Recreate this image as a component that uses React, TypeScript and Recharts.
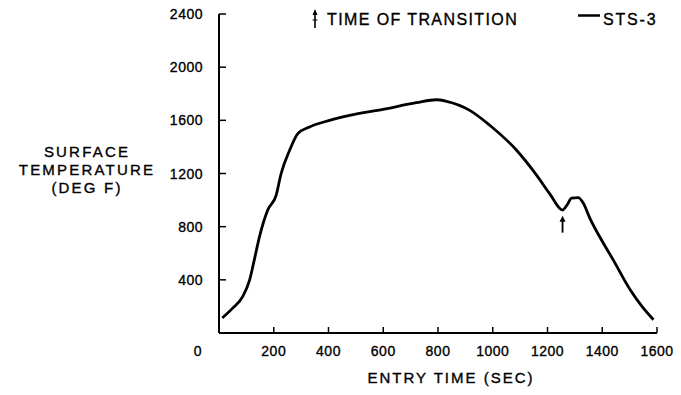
import React from 'react';
import { LineChart, Line, XAxis, YAxis, ReferenceDot } from 'recharts';

// Entry time (sec) and STS-3 surface temperature (deg F)
const entryTime = [12, 50, 87, 112, 130, 148, 178, 209, 227, 258, 288, 331, 404, 477, 599, 721, 794, 831, 916, 989, 1087, 1160, 1209, 1255, 1272, 1288, 1312, 1330, 1355, 1400, 1440, 1502, 1545, 1587];
const surfaceTemp = [113, 187, 275, 400, 560, 725, 925, 1038, 1200, 1375, 1500, 1550, 1600, 1638, 1683, 1733, 1755, 1743, 1675, 1563, 1375, 1188, 1045, 925, 965, 1015, 1018, 980, 863, 690, 550, 325, 200, 100];

const xTicks = [0, 200, 400, 600, 800, 1000, 1200, 1400, 1600];
const yTicks = [400, 800, 1200, 1600, 2000, 2400];

const transitionTime = 1255;
const transitionMarkTemp = 815;

const seriesName = 'STS-3';
const transitionLabel = 'TIME OF TRANSITION';
const xTitle = 'ENTRY TIME (SEC)';
const yTitleLines = ['SURFACE', 'TEMPERATURE', '(DEG F)'];

const data = entryTime.map((t, i) => ({ t, temp: surfaceTemp[i] }));

const FONT = '"Liberation Sans", Arial, Helvetica, sans-serif';
const TEXT_STROKE = { stroke: '#000', strokeWidth: 0.35 };

const XTick = (props: any) => {
  const { x, y, payload } = props;
  const isZero = payload.value === 0;
  return (
    <g>
      {!isZero && <line x1={x} x2={x} y1={y} y2={y - 6} stroke="#000" strokeWidth={1.5} />}
      <text
        x={isZero ? x - 21 : x}
        y={y + 23}
        textAnchor="middle"
        fontFamily={FONT}
        fontSize={14}
        letterSpacing={0.5}
        fill="#000"
        {...TEXT_STROKE}
      >
        {payload.value}
      </text>
    </g>
  );
};

const YTick = (props: any) => {
  const { x, y, payload } = props;
  return (
    <g>
      <line x1={x} x2={x + 7} y1={y} y2={y} stroke="#000" strokeWidth={1.5} />
      <text
        x={x - 16}
        y={y + 5}
        textAnchor="end"
        fontFamily={FONT}
        fontSize={14}
        letterSpacing={0.5}
        fill="#000"
        {...TEXT_STROKE}
      >
        {payload.value}
      </text>
    </g>
  );
};

const XTitle = (props: any) => {
  const vb = props.viewBox || {};
  return (
    <text
      x={vb.x + vb.width / 2 + 13}
      y={vb.y + 50}
      textAnchor="middle"
      fontFamily={FONT}
      fontSize={15}
      letterSpacing={2}
      fill="#000"
      {...TEXT_STROKE}
    >
      {xTitle}
    </text>
  );
};

const YTitle = () => (
  <g>
    {yTitleLines.map((line, i) => (
      <text
        key={line}
        x={87}
        y={157 + i * 18}
        textAnchor="middle"
        fontFamily={FONT}
        fontSize={15}
        letterSpacing={2.2}
        fill="#000"
        {...TEXT_STROKE}
      >
        {line}
      </text>
    ))}
  </g>
);

const TransitionArrow = (props: any) => {
  const { cx, cy } = props;
  return (
    <g>
      <line x1={cx} x2={cx} y1={cy + 8} y2={cy - 4} stroke="#000" strokeWidth={1.8} />
      <path d={`M ${cx - 3} ${cy - 3} L ${cx} ${cy - 9} L ${cx + 3} ${cy - 3} Z`} fill="#000" />
    </g>
  );
};

export default function App() {
  return (
    <div style={{ position: 'absolute', left: 0, top: 0, width: 681, height: 395, background: '#fff' }}>
      <LineChart
        width={681}
        height={395}
        data={data}
        margin={{ top: 14, right: 24, bottom: 0, left: 0 }}
      >
        <XAxis
          dataKey="t"
          type="number"
          domain={[0, 1600]}
          ticks={xTicks}
          interval={0}
          height={62}
          tickSize={0}
          tickMargin={0}
          tickLine={false}
          axisLine={{ stroke: '#000', strokeWidth: 2 }}
          tick={<XTick />}
          label={<XTitle />}
        />
        <YAxis
          type="number"
          domain={[0, 2400]}
          ticks={yTicks}
          interval={0}
          width={219}
          tickSize={0}
          tickMargin={0}
          tickLine={false}
          axisLine={{ stroke: '#000', strokeWidth: 2 }}
          tick={<YTick />}
          label={<YTitle />}
        />
        <Line
          dataKey="temp"
          type="monotone"
          stroke="#000"
          strokeWidth={2.8}
          dot={false}
          isAnimationActive={false}
          name={seriesName}
        />
        <ReferenceDot
          x={transitionTime}
          y={transitionMarkTemp}
          ifOverflow="visible"
          shape={<TransitionArrow />}
        />
      </LineChart>
      <svg
        width={681}
        height={395}
        style={{ position: 'absolute', left: 0, top: 0, pointerEvents: 'none' }}
      >
        <line x1={315} x2={315} y1={28} y2={14} stroke="#000" strokeWidth={1.6} />
        <path d="M 312.5 15 L 315 9 L 317.5 15 Z" fill="#000" />
        <line x1={312.5} x2={317.5} y1={20} y2={20} stroke="#000" strokeWidth={1} />
        <text x={327} y={25} fontFamily={FONT} fontSize={16} letterSpacing={1.4} fill="#000" {...TEXT_STROKE}>
          {transitionLabel}
        </text>
        <line x1={578} x2={600} y1={15.5} y2={15.5} stroke="#000" strokeWidth={2.5} />
        <text x={603} y={25} fontFamily={FONT} fontSize={16} letterSpacing={1.8} fill="#000" {...TEXT_STROKE}>
          {seriesName}
        </text>
      </svg>
    </div>
  );
}
